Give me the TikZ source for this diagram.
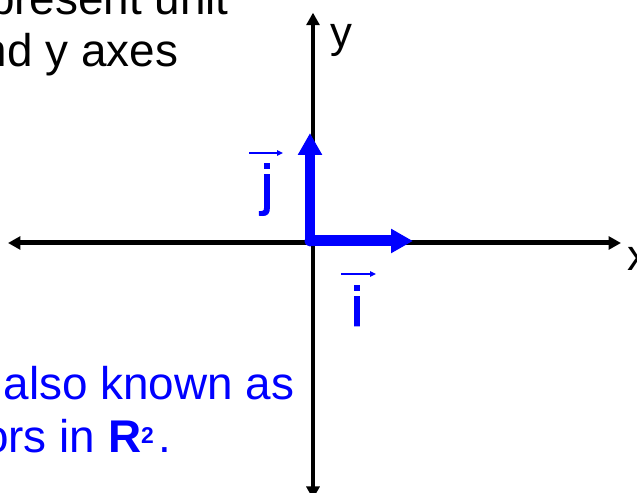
\documentclass[tikz,border=0pt]{standalone}
\usepackage{fontspec}
\setmainfont{Liberation Sans}
\newfontfamily\vecfont[FakeBold=1.6]{Liberation Sans}
\usetikzlibrary{arrows.meta}

\begin{document}
\begin{tikzpicture}[x=0.02cm,y=-0.02cm,
  axis/.style={line width=0.1cm,
    {Triangle[length=0.25cm,width=0.26cm]}-{Triangle[length=0.25cm,width=0.26cm]}},
  unitvec/.style={blue,line width=0.22cm,line cap=round,
    -{Triangle[length=0.44cm,width=0.46cm]}},
  hat/.style={blue,line width=0.04cm,-{Triangle[length=0.12cm,width=0.11cm]}},
  slide/.style={inner sep=0pt,font=\fontsize{26.1}{29.5}\selectfont},
  axlabel/.style={inner sep=0pt,anchor=base west,font=\fontsize{24.9}{28}\selectfont},
  veclabel/.style={inner sep=0pt,anchor=base,blue,font=\vecfont\fontsize{31.7}{35}\selectfont}]

\useasboundingbox (0,0) rectangle (637,493);
\clip (0,0) rectangle (637,493);

% Axes
\coordinate (xleft) at (8,243);
\coordinate (xright) at (621,243);
\coordinate (ytop) at (313,12.7);
\coordinate (ybot) at (313,499);
\draw[axis] (xleft) -- (xright);
\draw[axis] (ybot) -- (ytop);

\node[axlabel] (ylab) at (330,48) {y};
\node[axlabel] (xlab) at (627,271) {x};

% Unit vectors
\coordinate (O) at (310,241);
\coordinate (itip) at (413,241);
\coordinate (jtip) at (310,133);
\draw[unitvec] (O) -- (itip);
\draw[unitvec] (O) -- (jtip);

\node[veclabel] (jlab) at (267,204) {j};
\coordinate (jhatA) at (249,153);
\coordinate (jhatB) at (283,153);
\draw[hat] (jhatA) -- (jhatB);

\node[veclabel] (ilab) at (357,326) {i};
\coordinate (ihatA) at (341,274);
\coordinate (ihatB) at (376,274);
\draw[hat] (ihatA) -- (ihatB);

% Text
\node[slide,anchor=base east] (top1) at (229,15) {represent unit};
\node[slide,anchor=base east] (top2) at (178.5,67) {x and y axes};

\node[slide,anchor=base east,blue] (bot1) at (294.5,400) {also known as};
\node[slide,anchor=base east,blue] (bot2) at (172,453)
{vectors in \textbf{R}\raisebox{0.18cm}{\fontsize{13}{14}\selectfont\bfseries 2}\hspace{0.1cm}.};

\end{tikzpicture}
\end{document}
